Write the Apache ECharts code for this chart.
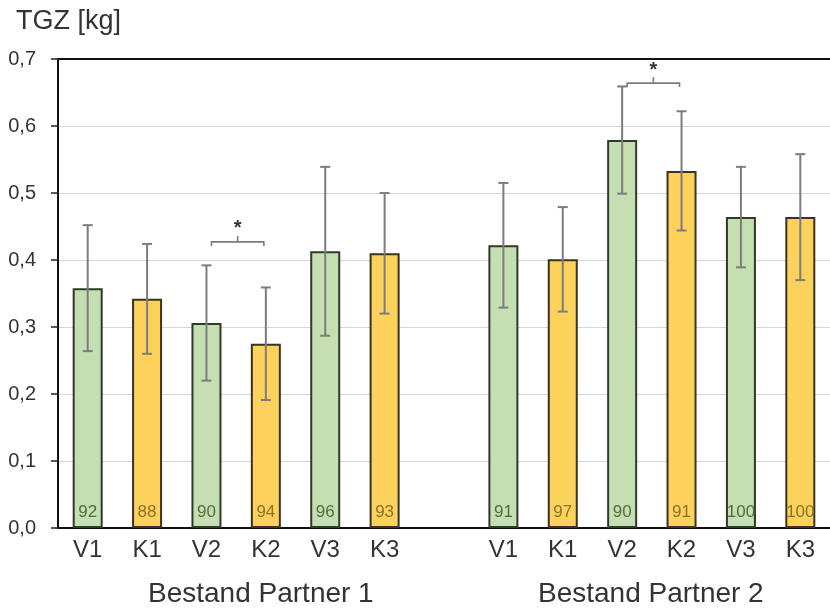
<!DOCTYPE html>
<html>
<head>
<meta charset="utf-8">
<script src="https://cdn.jsdelivr.net/npm/echarts@6/dist/echarts.min.js"></script>
<style>
html,body{margin:0;padding:0;background:#fff;}
#chart{width:830px;height:611px;}
</style>
</head>
<body>
<div id="chart"></div>
<script>
// ---- data ----
var categories = ['V1','K1','V2','K2','V3','K3','','V1','K1','V2','K2','V3','K3'];
var groupLabels = ['Bestand Partner 1','Bestand Partner 2'];
var p1Means = [0.358, 0.342, 0.306, 0.275, 0.413, 0.410];
var p2Means = [0.422, 0.401, 0.579, 0.533, 0.464, 0.464];
var p1Err   = [0.094, 0.082, 0.086, 0.084, 0.126, 0.090];
var p2Err   = [0.093, 0.078, 0.080, 0.089, 0.075, 0.094];
var p1N     = [92, 88, 90, 94, 96, 93];
var p2N     = [91, 97, 90, 91, 100, 100];
// significance brackets: [fromIndex, toIndex, bracketValue]
var sigPairs = [[2, 3, 0.427], [9, 10, 0.664]];
var yTicks = [0, 0.1, 0.2, 0.3, 0.4, 0.5, 0.6, 0.7];

// ---- build ----
var GREEN = '#c5dfb3', YELLOW = '#fcd25c';
var means = p1Means.concat([null], p2Means);
var errs = p1Err.concat([null], p2Err);
var ns = p1N.concat([null], p2N);

var barData = means.map(function (m, i) {
  if (m === null) return '-';
  var isV = categories[i].charAt(0) === 'V';
  return {
    value: m,
    itemStyle: { color: isV ? GREEN : YELLOW, borderColor: isV ? '#2f3a2a' : '#3a3222' },
    label: { color: isV ? '#4f6e3e' : '#8a7228' }
  };
});
var errData = [];
means.forEach(function (m, i) {
  if (m !== null) errData.push([i, m - errs[i], m + errs[i]]);
});

var chart = echarts.init(document.getElementById('chart'));
var FONT = '"Liberation Sans", Arial, sans-serif';
chart.setOption({
  animation: false,
  title: {
    text: 'TGZ [kg]', left: 16, top: 8, padding: 0,
    textStyle: { fontSize: 27, fontWeight: 'normal', color: '#333', fontFamily: FONT }
  },
  grid: { left: 58, right: -9, top: 59, bottom: 83 },
  xAxis: [{
    type: 'category', data: categories,
    axisLine: { lineStyle: { color: '#111', width: 2 } },
    axisTick: { show: false },
    axisLabel: { fontSize: 24, color: '#333', margin: 10, fontFamily: FONT, interval: 0 }
  }, {
    type: 'category', data: categories, position: 'top',
    axisLine: { lineStyle: { color: '#111', width: 2 } },
    axisTick: { show: false }, axisLabel: { show: false }
  }],
  yAxis: {
    type: 'value', min: 0, max: 0.7, interval: 0.1,
    axisLine: { show: true, lineStyle: { color: '#111', width: 2 } },
    axisTick: { show: true, length: 7, lineStyle: { color: '#222', width: 1.5 } },
    axisLabel: {
      fontSize: 20, color: '#333', margin: 22, fontFamily: FONT,
      formatter: function (v) { return v.toFixed(1).replace('.', ','); }
    },
    splitLine: { lineStyle: { color: '#d6d6d6', width: 1.2 } }
  },
  series: [{
    type: 'bar', data: barData, barWidth: 30,
    itemStyle: { borderWidth: 2 },
    label: {
      show: true, position: 'insideBottom', distance: 7,
      fontSize: 17, fontFamily: FONT,
      formatter: function (p) { return ns[p.dataIndex]; }
    },
    z: 2
  }, {
    type: 'custom', data: errData, z: 3,
    encode: { x: 0, y: [1, 2] },
    renderItem: function (params, api) {
      var lo = api.coord([api.value(0), api.value(1)]);
      var hi = api.coord([api.value(0), api.value(2)]);
      var hw = 5;
      var st = { stroke: '#7c7c7c', lineWidth: 2 };
      return { type: 'group', children: [
        { type: 'line', shape: { x1: lo[0], y1: lo[1], x2: hi[0], y2: hi[1] }, style: st },
        { type: 'line', shape: { x1: lo[0] - hw, y1: lo[1], x2: lo[0] + hw, y2: lo[1] }, style: st },
        { type: 'line', shape: { x1: hi[0] - hw, y1: hi[1], x2: hi[0] + hw, y2: hi[1] }, style: st }
      ]};
    }
  }, {
    type: 'custom', data: sigPairs, z: 4,
    encode: { x: [0, 1], y: 2 },
    renderItem: function (params, api) {
      var a = api.coord([api.value(0), api.value(2)]);
      var b = api.coord([api.value(1), api.value(2)]);
      var x1 = a[0] + 5, x2 = b[0] - 2, y = a[1];
      var xm = (x1 + x2) / 2;
      var st = { stroke: '#7c7c7c', lineWidth: 1.6, fill: null };
      return { type: 'group', children: [
        { type: 'polyline', shape: { points: [[x1, y + 4], [x1, y], [x2, y], [x2, y + 4]] }, style: st },
        { type: 'line', shape: { x1: xm, y1: y, x2: xm, y2: y - 6 }, style: st },
        { type: 'text', style: { text: '*', x: xm, y: y - 13, textAlign: 'center', textVerticalAlign: 'middle',
          fontSize: 20, fontWeight: 'bold', fill: '#333', fontFamily: FONT } }
      ]};
    }
  }],
  graphic: [
    { type: 'text', left: 148, top: 580, style: { text: groupLabels[0], fontSize: 28, fill: '#333', fontFamily: FONT } },
    { type: 'text', left: 538, top: 580, style: { text: groupLabels[1], fontSize: 28, fill: '#333', fontFamily: FONT } }
  ]
});
</script>
</body>
</html>
